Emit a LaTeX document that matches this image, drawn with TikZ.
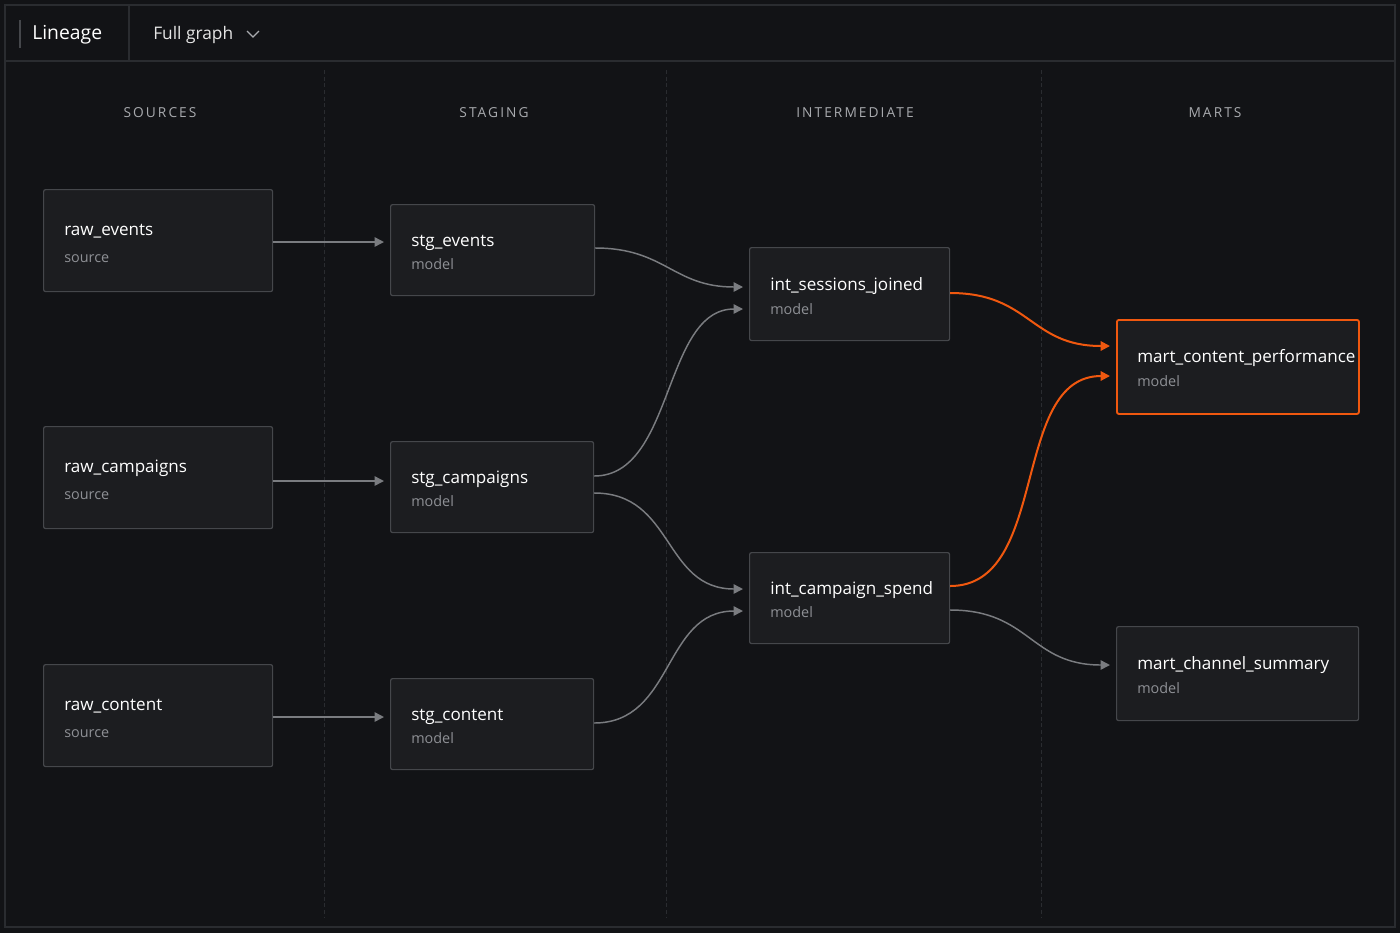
\documentclass[tikz,border=0pt]{standalone}
\usepackage{fontspec}
\setmainfont{Open Sans}
\usetikzlibrary{calc,arrows.meta}
\definecolor{bg}{HTML}{121316}
\definecolor{boxbg}{HTML}{1C1D20}
\definecolor{boxln}{HTML}{45474B}
\definecolor{frm}{HTML}{2A2C30}
\definecolor{edge}{HTML}{7A7C80}
\definecolor{org}{HTML}{F0580F}
\definecolor{subt}{HTML}{8E9095}
\definecolor{hdr}{HTML}{A8AAAE}
\tikzset{
  box/.style={draw=boxln, fill=boxbg, line width=0.9pt, rounded corners=1.5pt, anchor=north west, inner sep=0pt},
  hot/.style={draw=org, line width=1.4pt},
  ttl/.style={anchor=base west, inner sep=0pt, text=white, font=\fontsize{12.8}{15}\selectfont},
  sub/.style={anchor=base west, inner sep=0pt, text=subt, font=\fontsize{10.8}{13}\selectfont},
  colh/.style={text=hdr, font=\fontsize{10.3}{12}\selectfont\addfontfeatures{LetterSpace=15}},
  ed/.style={draw=edge, line width=1.1pt, -{Triangle[length=7pt,width=7pt]}},
  oe/.style={draw=org, line width=1.5pt, -{Triangle[length=7pt,width=7pt]}},
  div/.style={draw=frm, dashed, dash pattern=on 3pt off 2pt, line width=0.6pt}
}
\newcommand{\mknode}[8]{% name x y w h title sub style
  \node[box,#8, minimum width=#4*0.75pt, minimum height=#5*0.75pt] (#1) at (#2,#3) {};
  \node[ttl] (#1t) at ($(#1.north west)+(21,#5*0.39+7)$) {#6};
  \node[sub] (#1s) at ($(#1.north west)+(21,#5*0.67+5)$) {#7};
}
\begin{document}
\begin{tikzpicture}[x=0.75pt,y=-0.75pt]
\fill[bg] (0,0) rectangle (1400,933);
\useasboundingbox (0,0) rectangle (1400,933);
\draw[frm, line width=1pt] (5,5) rectangle (1395,927);
\draw[frm, line width=1pt] (5,61) -- (1395,61);
\draw[frm, line width=1pt] (129,5) -- (129,61);
\draw[boxln, line width=1.2pt] (20,20) -- (20,48);
\node[anchor=west, inner sep=0pt, text=white, font=\fontsize{14.5}{17}\selectfont] (lin) at (32,35) {Lineage};
\node[anchor=west, inner sep=0pt, text=white!90!black, font=\fontsize{13}{16}\selectfont] (fg) at (153,35) {Full graph};
\draw[hdr, line width=1pt] (247,31) -- (253,37) -- (259,31);
\foreach \x in {324,666,1041} \draw[div] (\x,70) -- (\x,917);
\node[colh] (h1) at (160,113) {SOURCES};
\node[colh] (h2) at (494,113) {STAGING};
\node[colh] (h3) at (855,113) {INTERMEDIATE};
\node[colh] (h4) at (1215,113) {MARTS};

\mknode{re}{43}{189}{229}{102}{raw\_events}{source}{}
\mknode{rc}{43}{426}{229}{102}{raw\_campaigns}{source}{}
\mknode{rt}{43}{664}{229}{102}{raw\_content}{source}{}
\mknode{se}{390}{204}{204}{91}{stg\_events}{model}{}
\mknode{sc}{390}{441}{203}{91}{stg\_campaigns}{model}{}
\mknode{st}{390}{678}{203}{91}{stg\_content}{model}{}
\mknode{is}{749}{247}{200}{93}{int\_sessions\_joined}{model}{}
\mknode{ic}{749}{552}{200}{91}{int\_campaign\_spend}{model}{}
\mknode{mc}{1116}{319}{242}{94}{mart\_content\_performance}{model}{hot}
\mknode{ms}{1116}{626}{242}{94}{mart\_channel\_summary}{model}{}

\draw[ed] ($(re.north east)+(0,53)$) -- ($(se.north west)+(-6,38)$);
\draw[ed] ($(rc.north east)+(0,55)$) -- ($(sc.north west)+(-6,40)$);
\draw[ed] ($(rt.north east)+(0,53)$) -- ($(st.north west)+(-6,39)$);
\draw[ed] ($(se.north east)+(0,44)$) .. controls +(70,0) and +(-70,0) .. ($(is.north west)+(-6,40)$);
\draw[ed] ($(sc.north east)+(0,35)$) .. controls +(80,0) and +(-80,0) .. ($(is.north west)+(-6,62)$);
\draw[ed] ($(sc.north east)+(0,52)$) .. controls +(80,0) and +(-80,0) .. ($(ic.north west)+(-6,37)$);
\draw[ed] ($(st.north east)+(0,45)$) .. controls +(80,0) and +(-80,0) .. ($(ic.north west)+(-6,59)$);
\draw[oe] ($(is.north east)+(0,46)$) .. controls +(80,0) and +(-80,0) .. ($(mc.north west)+(-6,27)$);
\draw[oe] ($(ic.north east)+(0,34)$) .. controls +(100,0) and +(-100,0) .. ($(mc.north west)+(-6,57)$);
\draw[ed] ($(ic.north east)+(0,58)$) .. controls +(80,0) and +(-80,0) .. ($(ms.north west)+(-6,39)$);
\end{tikzpicture}
\end{document}
